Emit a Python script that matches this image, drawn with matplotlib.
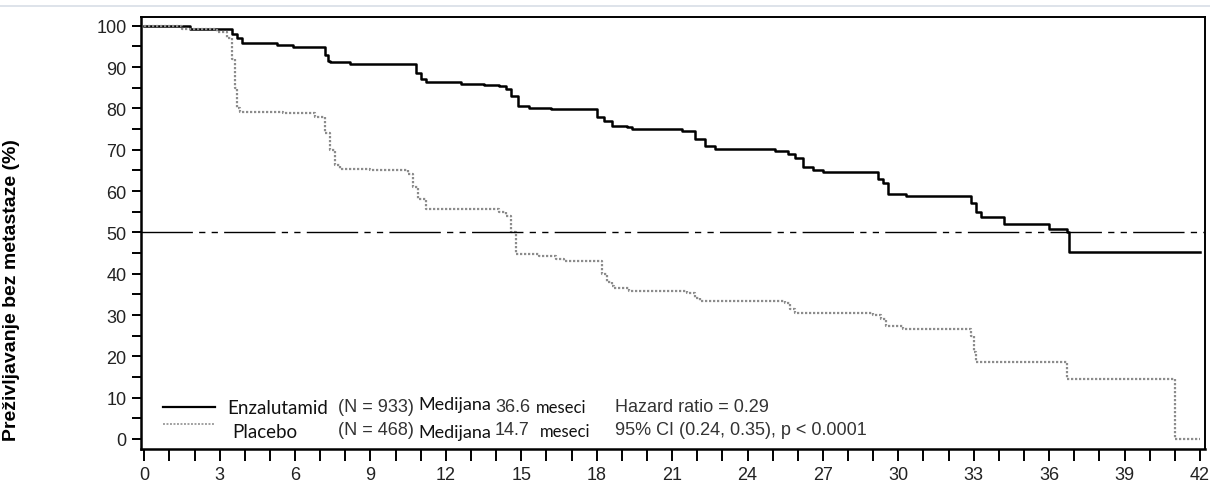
import matplotlib
matplotlib.use("Agg")
import matplotlib.pyplot as plt
from matplotlib.lines import Line2D
from matplotlib.ticker import MultipleLocator

# Kaplan-Meier steps (months, % without metastasis)
enz_t = [0, 1.8, 3.5, 3.7, 3.9, 5.3, 5.9, 7.2, 7.3, 7.4, 8.2, 10.8, 11.0, 11.2,
         12.6, 13.5, 14.1, 14.4, 14.6, 14.85, 15.3, 16.2, 18.0, 18.3, 18.6,
         19.2, 19.4, 21.4, 21.9, 22.3, 22.7, 25.1, 25.6, 25.9, 26.2, 26.6,
         27.0, 28.6, 29.2, 29.4, 29.6, 30.3, 32.9, 33.1, 33.3, 34.2, 36.0,
         36.7, 36.8, 42.0]
enz_s = [100, 99.2, 98, 97, 95.8, 95.4, 94.8, 93, 91.5, 91.3, 90.7, 88.5, 87,
         86.3, 85.9, 85.6, 85.3, 84.8, 83, 80.6, 80.2, 79.9, 78, 77, 75.8,
         75.6, 75, 74.6, 72.5, 71, 70.2, 69.8, 69, 68, 65.9, 65.1, 64.7,
         64.5, 63, 62, 59.2, 58.7, 57, 55, 53.6, 51.9, 50.7, 50, 45.3, 45.3]

pla_t = [0, 1.5, 2.9, 3.3, 3.5, 3.6, 3.7, 3.8, 5.5, 6.8, 7.2, 7.4, 7.6, 7.8,
         9.0, 10.5, 10.7, 10.9, 11.2, 14.1, 14.4, 14.6, 14.8, 15.7, 16.4,
         16.7, 18.2, 18.4, 18.6, 18.7, 19.3, 21.6, 21.9, 22.1, 25.5, 25.7,
         25.9, 29.0, 29.3, 29.5, 30.2, 32.9, 33.0, 33.1, 36.7, 41.0, 42.0]
pla_s = [100, 99.2, 98.5, 97, 92, 85, 80, 79.2, 78.8, 78, 74, 70, 66.4, 65.4,
         65, 64, 61, 58, 55.6, 55, 54, 50, 44.7, 44.3, 43.5, 43, 40, 38, 37,
         36.5, 35.8, 35.3, 34, 33.3, 32.8, 31.5, 30.5, 30, 29, 27.3, 26.6, 25,
         21, 18.6, 14.5, 0, 0]

x_ticks = list(range(0, 43, 3))
y_ticks = list(range(0, 101, 10))

groups = ["Enzalutamid", "Placebo"]
n_pat = ["(N = 933)", "(N = 468)"]
medians = ["36.6", "14.7"]
stats = ["Hazard ratio = 0.29", "95% CI (0.24, 0.35), p < 0.0001"]

helv = ["Liberation Sans", "DejaVu Sans"]
calib = ["Lato", "DejaVu Sans"]

fig = plt.figure(figsize=(12.1, 4.85), dpi=100)
ax = fig.add_axes([141 / 1210, 1 - 450 / 485, 1064 / 1210, 432 / 485])

ax.step(enz_t, enz_s, where="post", color="black", lw=1.8)
ax.step(pla_t, pla_s, where="post", color="#8c8c8c", lw=1.6,
        linestyle=(0, (1, 0.8)))
ax.axhline(50, color="black", lw=1.0,
           linestyle=(0, (37, 4.5, 4.5, 4.5, 4.5, 4.5)))

ax.set_xlim(-0.13, 42.2)
ax.set_ylim(-2.42, 102.1)
ax.set_xticks(x_ticks)
ax.set_yticks(y_ticks)
ax.xaxis.set_minor_locator(MultipleLocator(1))
ax.yaxis.set_minor_locator(MultipleLocator(5))
ax.tick_params(which="both", axis="x", direction="out", length=8.5, width=1.4,
               pad=4, labelsize=13, labelcolor="#222222")
ax.tick_params(which="both", axis="y", direction="out", length=6.5, width=1.4,
               pad=4, labelsize=13, labelcolor="#222222")
for lab in ax.get_xticklabels() + ax.get_yticklabels():
    lab.set_family(helv)
for side in ["left", "bottom"]:
    ax.spines[side].set_linewidth(1.8)
for side in ["top", "right"]:
    ax.spines[side].set_linewidth(1.4)

ax.set_ylabel("Preživljavanje bez metastaze (%)", fontsize=14,
              fontweight="bold", family=helv, labelpad=0)
ax.yaxis.set_label_coords(-121 / 1064, (450 - 290) / 432)

# legend block
ax.plot([0.74, 2.82], [7.7, 7.7], color="black", lw=1.6)
ax.plot([0.74, 2.82], [3.6, 3.6], color="#a0a0a0", lw=1.4,
        linestyle=(0, (1, 0.8)))
ax.text(3.3, 7.7, groups[0], fontsize=13.5, family=calib, va="center",
        color="#111111")
ax.text(3.5, 1.9, groups[1], fontsize=13.5, family=calib, va="center",
        color="#111111")
for i in range(2):
    y = [7.9, 2.2][i]
    ax.text(7.7, y, n_pat[i], fontsize=13, family=helv, va="center",
            color="#333333")
    ax.text(10.9, y + [0.6, -0.5][i], "Medijana", fontsize=13, family=calib,
            va="center", color="#111111")
    ax.text(13.95, y, medians[i], fontsize=13, family=helv, va="center",
            color="#333333")
    ax.text([15.58, 15.75][i], y - 0.2, "meseci", fontsize=12, family=calib,
            va="center", color="#111111")
    ax.text(18.72, y, stats[i], fontsize=13, family=helv, va="center",
            color="#333333")

fig.add_artist(Line2D([0, 1], [1 - 7 / 485, 1 - 7 / 485],
                      transform=fig.transFigure, color="#d8dee6", lw=1.2))

fig.savefig("out.png", dpi=100)
